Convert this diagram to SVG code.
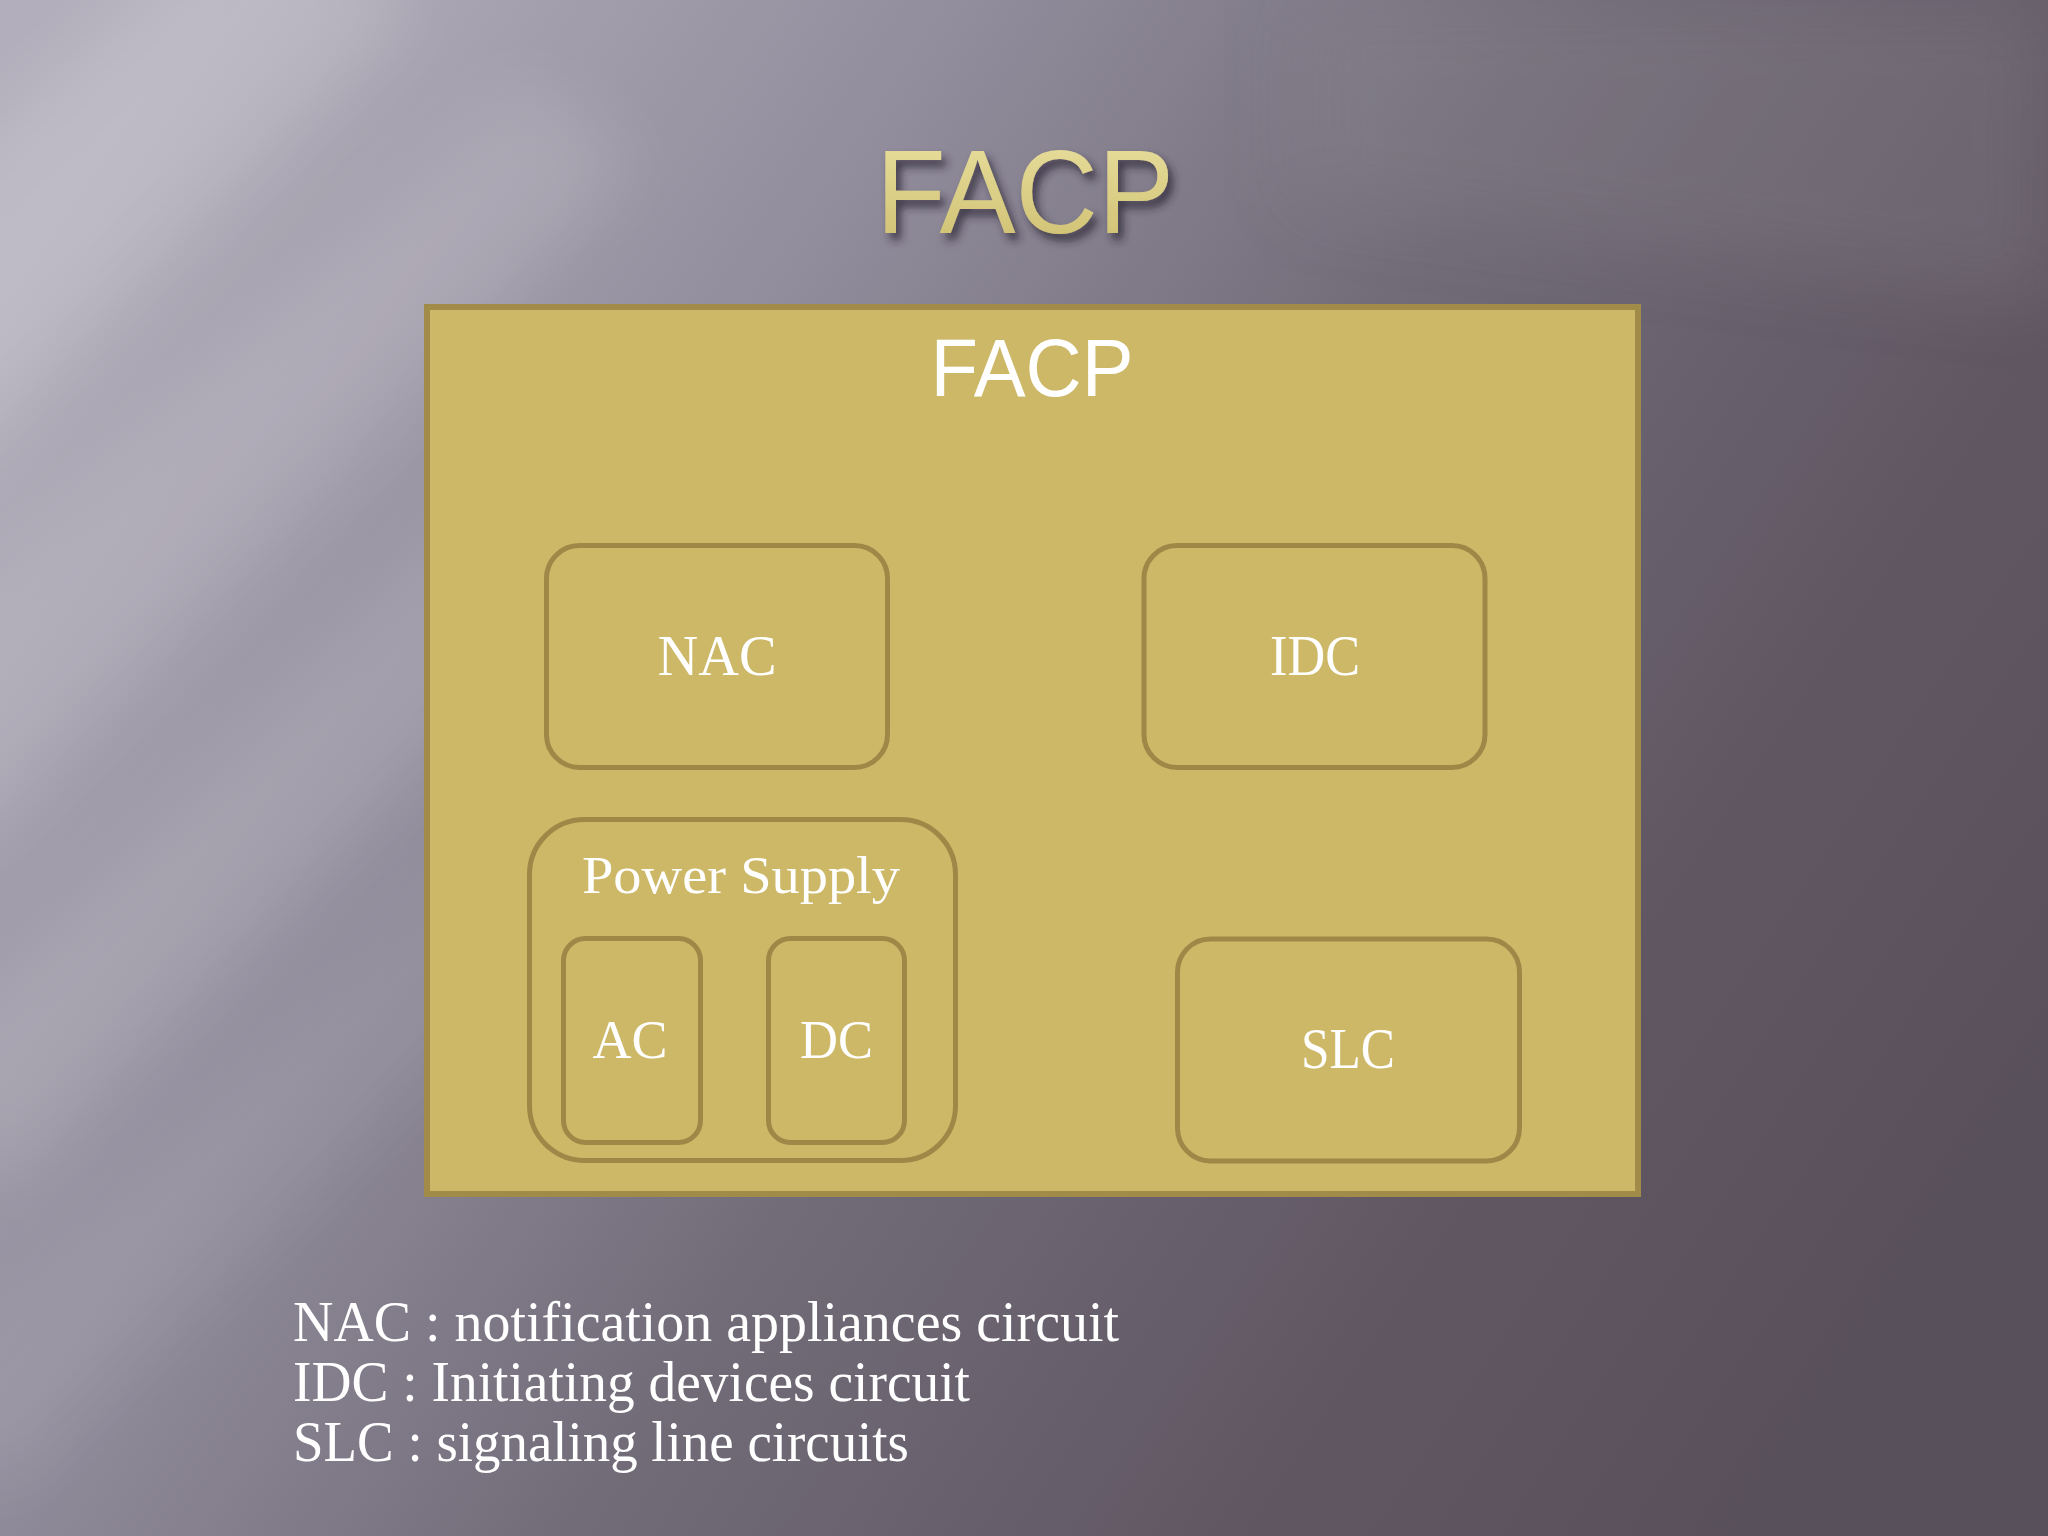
<svg xmlns="http://www.w3.org/2000/svg" width="2048" height="1536" viewBox="0 0 2048 1536">
  <defs>
    <linearGradient id="bg" x1="0" y1="0.2" x2="1" y2="0.7">
      <stop offset="0" stop-color="#B2AEBB"/>
      <stop offset="0.3" stop-color="#928D9C"/>
      <stop offset="0.55" stop-color="#716B78"/>
      <stop offset="0.8" stop-color="#605763"/>
      <stop offset="1" stop-color="#58505A"/>
    </linearGradient>
    <linearGradient id="gold" x1="0" y1="0" x2="0" y2="1">
      <stop offset="0" stop-color="#EAE0A0"/>
      <stop offset="1" stop-color="#CDBE6E"/>
    </linearGradient>
    <filter id="blur" x="-50%" y="-50%" width="200%" height="200%">
      <feGaussianBlur stdDeviation="35"/>
    </filter>
    <filter id="shadow" x="-20%" y="-20%" width="140%" height="160%">
      <feDropShadow dx="5" dy="7" stdDeviation="4" flood-color="#2A2430" flood-opacity="0.75"/>
    </filter>
  </defs>
  <style>
    .box { fill: none; stroke: #9E8848; stroke-width: 5; }
    .lbl { font-family: "Liberation Serif", "Times New Roman", serif; fill: #FFFFFF; text-anchor: middle; }
    .legend { font-family: "Liberation Serif", "Times New Roman", serif; fill: #FFFFFF; font-size: 58px; }
  </style>

  <!-- background -->
  <rect x="0" y="0" width="2048" height="1536" fill="url(#bg)"/>
  <g filter="url(#blur)">
    <polygon points="-200,300 250,-100 420,0 -100,520" fill="#FFFFFF" opacity="0.16"/>
    <polygon points="-150,700 520,80 640,160 -50,860" fill="#FFFFFF" opacity="0.12"/>
    <polygon points="-100,1080 560,420 660,520 0,1200" fill="#FFFFFF" opacity="0.12"/>
    <polygon points="-100,1400 500,820 600,900 0,1500" fill="#FFFFFF" opacity="0.08"/>
    <polygon points="1300,0 2048,0 2048,300 1300,200" fill="#8A8690" opacity="0.25"/>
  </g>

  <!-- slide title -->
  <text x="1025" y="233" font-family="'Liberation Sans', Arial, sans-serif" font-size="118" fill="url(#gold)" text-anchor="middle" textLength="298" lengthAdjust="spacingAndGlyphs" filter="url(#shadow)">FACP</text>

  <!-- FACP container -->
  <g id="facp">
    <rect x="427" y="307" width="1211" height="887" fill="#CDB868" stroke="#A08C48" stroke-width="6"/>
    <text x="1032" y="396" font-family="'Liberation Sans', Arial, sans-serif" font-size="82" fill="#FFFFFF" text-anchor="middle" textLength="203" lengthAdjust="spacingAndGlyphs">FACP</text>
  </g>

  <g id="nac">
    <rect class="box" x="546.5" y="545.5" width="341" height="222" rx="33"/>
    <text class="lbl" x="717" y="675" font-size="56" textLength="119" lengthAdjust="spacingAndGlyphs">NAC</text>
  </g>

  <g id="idc">
    <rect class="box" x="1144" y="545.5" width="341" height="222" rx="33"/>
    <text class="lbl" x="1315" y="675" font-size="56" textLength="90" lengthAdjust="spacingAndGlyphs">IDC</text>
  </g>

  <g id="power-supply">
    <rect class="box" x="529.5" y="819.5" width="426" height="341" rx="55"/>
    <text class="lbl" x="741" y="893" font-size="52" textLength="318" lengthAdjust="spacingAndGlyphs">Power Supply</text>
  </g>

  <g id="ac">
    <rect class="box" x="563.5" y="938.5" width="137" height="204" rx="22"/>
    <text class="lbl" x="630" y="1058" font-size="54" textLength="75" lengthAdjust="spacingAndGlyphs">AC</text>
  </g>

  <g id="dc">
    <rect class="box" x="768.5" y="938.5" width="136" height="204" rx="22"/>
    <text class="lbl" x="836.5" y="1058" font-size="54" textLength="73" lengthAdjust="spacingAndGlyphs">DC</text>
  </g>

  <g id="slc">
    <rect class="box" x="1177.5" y="939" width="342" height="222" rx="33"/>
    <text class="lbl" x="1348" y="1068" font-size="56" textLength="94" lengthAdjust="spacingAndGlyphs">SLC</text>
  </g>

  <g id="connectors"/>

  <!-- legend -->
  <g id="legend">
    <text class="legend" x="293" y="1341" textLength="826" lengthAdjust="spacingAndGlyphs">NAC : notification appliances circuit</text>
    <text class="legend" x="293" y="1401" textLength="677" lengthAdjust="spacingAndGlyphs">IDC : Initiating devices circuit</text>
    <text class="legend" x="293" y="1461" textLength="616" lengthAdjust="spacingAndGlyphs">SLC : signaling line circuits</text>
  </g>
</svg>
